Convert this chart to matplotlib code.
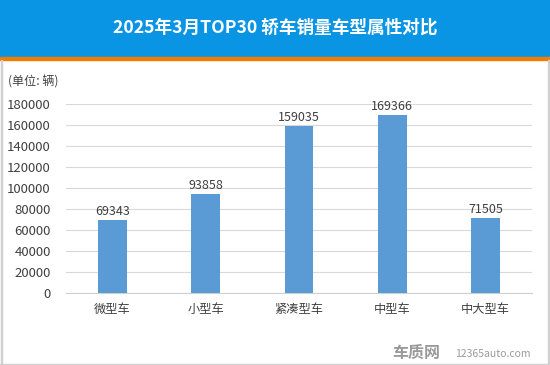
import matplotlib
matplotlib.use("Agg")
import matplotlib.pyplot as plt
from matplotlib.patches import Rectangle

plt.rcParams['font.family'] = ['Noto Sans CJK SC', 'DejaVu Sans']

categories = ["微型车", "小型车", "紧凑型车", "中型车", "中大型车"]
values = [69343, 93858, 159035, 169366, 71505]
yticks = [0, 20000, 40000, 60000, 80000, 100000, 120000, 140000, 160000, 180000]
title = "2025年3月TOP30 轿车销量车型属性对比"
unit = "(单位: 辆)"

W, H = 550, 365
fig = plt.figure(figsize=(W / 100, H / 100), dpi=100)

# header
fig.patches.append(Rectangle((0, 1 - 57 / H), 1, 57 / H, transform=fig.transFigure,
                             color="#0a95e4", zorder=0))
fig.patches.append(Rectangle((0, 1 - 60 / H), 1, 3 / H, transform=fig.transFigure,
                             color="#f07c00", zorder=1))
# border
for x0 in (0.5 / W, 1 - 2 / W):
    fig.patches.append(Rectangle((x0, 1 / H), 1.5 / W, 1 - 61 / H, transform=fig.transFigure,
                                 color="#d0d0d0", zorder=1))
fig.patches.append(Rectangle((0, 0), 1, 1.5 / H, transform=fig.transFigure,
                             color="#d0d0d0", zorder=1))

fig.text(0.5, 1 - 28 / H, title, ha="center", va="center", color="white",
         fontsize=12.7, fontweight="bold")

ax = fig.add_axes([66 / W, 1 - 293 / H, 466 / W, (293 - 104) / H])
x = range(len(categories))
bars = ax.bar(x, values, width=0.31, color="#5b9bd5", zorder=3)
for xi, v in zip(x, values):
    ax.text(xi, v + 2000, str(v), ha="center", va="bottom", fontsize=9, color="#404040")

ax.set_xlim(-0.5, len(categories) - 0.5)
ax.set_ylim(0, 180000)
ax.set_yticks(yticks)
ax.set_yticklabels([str(t) for t in yticks], fontsize=9.5, color="#404040")
ax.set_xticks(list(x))
ax.set_xticklabels(categories, fontsize=8.8, color="#404040")
ax.tick_params(axis="x", length=0, pad=7)
ax.tick_params(axis="y", length=0, pad=11)
ax.grid(axis="y", color="#d9d9d9", linewidth=0.8, zorder=0)
for s in ("top", "right", "left"):
    ax.spines[s].set_visible(False)
ax.spines["bottom"].set_color("#d0d0d0")

fig.text(8 / W, 1 - 82 / H, unit, ha="left", va="center", fontsize=8.7, color="#404040")

fig.text(392 / W, 1 - 353 / H, "车质网", ha="left", va="center", fontsize=11.5,
         color="#9a9a9a", fontweight="bold")
fig.text(455 / W, 1 - 354 / H, "12365auto.com", ha="left", va="center", fontsize=7.5,
         color="#9a9a9a")

fig.savefig("out.png", dpi=100)
